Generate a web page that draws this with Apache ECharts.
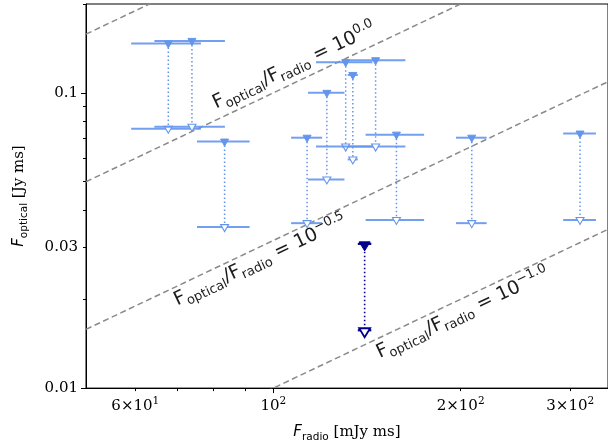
<!DOCTYPE html>
<html>
<head>
<meta charset="utf-8">
<script src="https://cdn.jsdelivr.net/npm/echarts@6.0.0/dist/echarts.min.js"></script>
<style>
  html, body { margin: 0; padding: 0; background: #fff; }
  #chart { width: 608px; height: 448px; }
</style>
</head>
<body>
<div id="chart"></div>
<script>
var chart = echarts.init(document.getElementById('chart'));

// radio fluence (mJy ms) and its error, optical upper / lower limits (Jy ms)
var fRadio     = [67.8, 74.0, 83.5, 113.3, 121.9, 130.7, 146.0, 134.2, 157.7, 208.4, 311.1];
var fRadioErr  = [8.7, 9.6, 8.1, 6.5, 8.2, 13.6, 17.0, 2.5, 17.0, 11.8, 18.8];
var fOptUpper  = [0.147, 0.150, 0.0684, 0.0705, 0.100, 0.127, 0.129, 0.115, 0.0722, 0.0705, 0.0728];
var fOptLower  = [0.0756, 0.0768, 0.0351, 0.0362, 0.0509, 0.0658, 0.0658, 0.0595, 0.0371, 0.0362, 0.0371];

// highlighted source (dark blue)
var hlRadio    = [140.2];
var hlRadioErr = [3.5];
var hlUpper    = [0.0308];
var hlLower    = [0.0157];

// constant ratio lines F_opt / F_radio = 10^k
var ratioExps   = [0.5, 0.0, -0.5, -1.0];
var labelExps   = [0.0, -0.5, -1.0];
var labelTexts  = ['0.0', '\u22120.5', '\u22121.0'];

// ticks
var xTickValues = [60, 100, 200, 300];
var xTickLabels = ['6\u00d710{s|1}', '10{s|2}', '2\u00d710{s|2}', '3\u00d710{s|2}'];
var xMajor      = [100];
var xMinor      = [60, 70, 80, 90, 200, 300];
var yTickValues = [0.01, 0.03, 0.1];
var yTickLabels = ['0.01', '0.03', '0.1'];
var yMajor      = [0.01, 0.1];
var yMinor      = [0.02, 0.03, 0.04, 0.05, 0.06, 0.07, 0.08, 0.09, 0.2];

var xMin = 50, xMax = 345, yMin = 0.01, yMax = 0.2;

function pickLabel(vals, labels) {
    return function (v) {
        var best = 0;
        for (var i = 1; i < vals.length; i++) {
            if (Math.abs(Math.log(vals[i] / v)) < Math.abs(Math.log(vals[best] / v))) best = i;
        }
        return labels[best];
    };
}

var serif = 'DejaVu Serif';
var sans = 'DejaVu Sans';

function makeRender(st) {
    return function (params, api) {
        var x = api.value(0), up = api.value(1), lo = api.value(2), xe = api.value(3);
        var pu = api.coord([x, up]);
        var pl = api.coord([x, lo]);
        var xl = api.coord([x - xe, up])[0];
        var xr = api.coord([x + xe, up])[0];
        var w = st.triW / 2;
        function tri(p) {
            return [[p[0] - w, p[1] - st.triTop], [p[0] + w, p[1] - st.triTop], [p[0], p[1] + st.triBot]];
        }
        return {
            type: 'group',
            children: [
                { type: 'line', shape: { x1: pu[0], y1: pu[1], x2: pl[0], y2: pl[1] },
                  style: { stroke: st.color, lineWidth: st.dotW, lineDash: [1.5, 2.5] } },
                { type: 'line', shape: { x1: xl, y1: pu[1], x2: xr, y2: pu[1] },
                  style: { stroke: st.color, lineWidth: st.barW, opacity: st.barOp } },
                { type: 'line', shape: { x1: xl, y1: pl[1], x2: xr, y2: pl[1] },
                  style: { stroke: st.color, lineWidth: st.barW, opacity: st.barOp } },
                { type: 'polygon', shape: { points: tri(pu) },
                  style: { fill: st.color, stroke: st.color, lineWidth: 1 } },
                { type: 'polygon', shape: { points: tri(pl) },
                  style: { fill: '#fff', stroke: st.color, lineWidth: st.openW } }
            ]
        };
    };
}

var blueData = fRadio.map(function (x, i) { return [x, fOptUpper[i], fOptLower[i], fRadioErr[i]]; });
var navyData = hlRadio.map(function (x, i) { return [x, hlUpper[i], hlLower[i], hlRadioErr[i]]; });

var ratioSeries = ratioExps.map(function (k) {
    var f = Math.pow(10, k) / 1000;
    return {
        type: 'line',
        data: [[xMin, f * xMin], [xMax, f * xMax]],
        symbol: 'none',
        silent: true,
        clip: true,
        z: 1,
        lineStyle: { color: '#8a8a8a', width: 1.5, type: [6, 3.5] }
    };
});

var option = {
    animation: false,
    backgroundColor: '#fff',
    grid: { left: 82, top: 4, right: -1, bottom: 58, show: true, borderColor: '#000', borderWidth: 1 },
    xAxis: [{
        type: 'log', min: xMin, max: xMax, position: 'bottom',
        axisLine: { show: true, onZero: false, lineStyle: { color: '#000', width: 1 } },
        axisTick: { show: true, length: 5, customValues: xMajor, lineStyle: { color: '#000' } },
        minorTick: { show: false },
        splitLine: { show: false },
        axisLabel: {
            customValues: xTickValues, formatter: pickLabel(xTickValues, xTickLabels),
            margin: 8, color: '#000', fontFamily: serif, fontSize: 15, lineHeight: 20,
            rich: { s: { fontFamily: serif, fontSize: 10.5, verticalAlign: 'top', lineHeight: 10, color: '#000' } }
        },
        name: '{it|F}{sub|radio} [mJy ms]',
        nameLocation: 'middle', nameGap: 30,
        nameTextStyle: {
            color: '#000', fontFamily: serif, fontSize: 15, lineHeight: 22,
            rich: {
                it: { fontFamily: sans, fontStyle: 'italic', fontSize: 15, color: '#000' },
                sub: { fontFamily: sans, fontSize: 10.5, verticalAlign: 'bottom', lineHeight: 10, color: '#000' }
            }
        }
    }, {
        type: 'log', min: xMin, max: xMax, position: 'bottom',
        axisLine: { show: false },
        axisTick: { show: true, length: 3, customValues: xMinor, lineStyle: { color: '#000' } },
        minorTick: { show: false },
        splitLine: { show: false },
        axisLabel: { show: false }
    }],
    yAxis: [{
        type: 'log', min: yMin, max: yMax, position: 'left',
        axisLine: { show: true, onZero: false, lineStyle: { color: '#000', width: 1 } },
        axisTick: { show: true, length: 5, customValues: yMajor, lineStyle: { color: '#000' } },
        minorTick: { show: false },
        splitLine: { show: false },
        axisLabel: {
            customValues: yTickValues, formatter: pickLabel(yTickValues, yTickLabels),
            margin: 8, color: '#000', fontFamily: serif, fontSize: 15
        },
        name: '{it|F}{sub|optical} [Jy ms]',
        nameLocation: 'middle', nameGap: 56,
        nameTextStyle: {
            color: '#000', fontFamily: serif, fontSize: 15, lineHeight: 22,
            rich: {
                it: { fontFamily: sans, fontStyle: 'italic', fontSize: 15, color: '#000' },
                sub: { fontFamily: sans, fontSize: 10.5, verticalAlign: 'bottom', lineHeight: 10, color: '#000' }
            }
        }
    }, {
        type: 'log', min: yMin, max: yMax, position: 'left',
        axisLine: { show: false },
        axisTick: { show: true, length: 3, customValues: yMinor, lineStyle: { color: '#000' } },
        minorTick: { show: false },
        splitLine: { show: false },
        axisLabel: { show: false }
    }],
    series: ratioSeries.concat([{
        type: 'custom',
        data: blueData,
        encode: { x: 0, y: [1, 2] },
        z: 3,
        renderItem: makeRender({ color: '#6495ED', triW: 8, triTop: 2.5, triBot: 4.5, dotW: 1.5, barW: 2, barOp: 0.9, openW: 1.1 })
    }, {
        type: 'custom',
        data: navyData,
        encode: { x: 0, y: [1, 2] },
        z: 4,
        renderItem: makeRender({ color: '#00008B', triW: 11, triTop: 2, triBot: 7, dotW: 1.6, barW: 2.2, barOp: 1, openW: 1.8 })
    }])
};

chart.setOption(option);

// rotated labels along the ratio lines
var labelAt  = [108, 95.3, 201.6];
var labelDy  = [-17, 14, 15];
var graphics = labelExps.map(function (k, i) {
    var f = Math.pow(10, k) / 1000;
    var x0 = labelAt[i];
    var p1 = chart.convertToPixel({ gridIndex: 0 }, [x0, f * x0]);
    var p2 = chart.convertToPixel({ gridIndex: 0 }, [x0 * 2, f * x0 * 2]);
    var ang = Math.atan2(p1[1] - p2[1], p2[0] - p1[0]);
    return {
        type: 'text',
        x: p1[0],
        y: p1[1] + labelDy[i],
        rotation: ang,
        z: 10,
        style: {
            text: '{m|F}{sub|optical}{m|/F}{sub|radio}{m| = 10}{sup|' + labelTexts[i] + '}',
            align: 'center',
            verticalAlign: 'middle',
            fill: '#1c1c1c',
            fontFamily: sans,
            fontSize: 19,
            rich: {
                m: { fontFamily: sans, fontSize: 19, lineHeight: 25, fill: '#1c1c1c' },
                sub: { fontFamily: sans, fontSize: 13, lineHeight: 10, verticalAlign: 'bottom', fill: '#1c1c1c' },
                sup: { fontFamily: sans, fontSize: 13, lineHeight: 10, verticalAlign: 'top', fill: '#1c1c1c' }
            }
        }
    };
});
chart.setOption({ graphic: graphics });
</script>
</body>
</html>
